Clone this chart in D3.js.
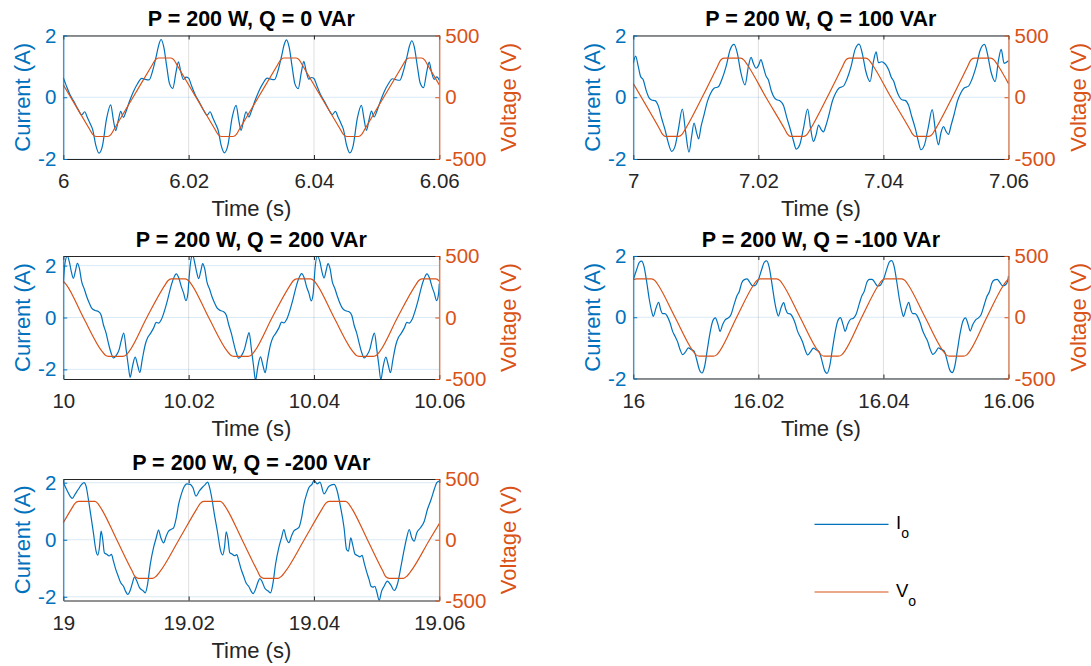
<!DOCTYPE html>
<html>
<head>
<meta charset="utf-8">
<script src="https://cdn.jsdelivr.net/npm/d3@7"></script>
<style>
  body { margin: 0; background: #fff; }
  svg { display: block; }
  text { font-family: "Liberation Sans", Arial, Helvetica, sans-serif; }
</style>
</head>
<body>
<svg id="chart" width="1091" height="666"></svg>
<script>
// ---------------------------------------------------------------
// Data: output current I_o (A) and output voltage V_o (V) over a
// 60 ms window for five operating points. Times are ms offsets
// from each window's start time (s).
// ---------------------------------------------------------------
const panelTitles = [
  "P = 200 W, Q = 0 VAr",
  "P = 200 W, Q = 100 VAr",
  "P = 200 W, Q = 200 VAr",
  "P = 200 W, Q = -100 VAr",
  "P = 200 W, Q = -200 VAr"
];
const startTimes = [6, 7, 10, 16, 19];
const timeTickLabels = [
  ["6", "6.02", "6.04", "6.06"],
  ["7", "7.02", "7.04", "7.06"],
  ["10", "10.02", "10.04", "10.06"],
  ["16", "16.02", "16.04", "16.06"],
  ["19", "19.02", "19.04", "19.06"]
];
const currentTicks = [-2, 0, 2];
const voltageTicks = [-500, 0, 500];
const currentLimits = [2, 2, 2.37, 2, 2.13];
const voltageLimit = 500;
const legendLabels = [["I", "o"], ["V", "o"]];

// Q = 0 VAr
const curMs1 = [0.00,0.43,1.07,1.70,2.40,2.93,3.41,3.83,4.37,4.69,5.17,5.70,6.23,6.92,7.56,7.99,8.36,8.79,9.16,9.59,10.01,10.55,11.18,11.82,12.52,13.05,13.69,14.22,14.81,15.23,15.61,16.03,16.51,16.94,17.47,18.00,18.37,18.75,19.17,19.60,
  20.00,20.45,21.10,21.72,22.40,22.95,23.42,23.85,24.38,24.70,25.18,25.72,26.25,26.94,27.57,28.00,28.37,28.80,29.17,29.60,30.02,30.56,31.19,31.84,32.53,33.06,33.70,34.23,34.82,35.24,35.62,36.04,36.52,36.95,37.48,38.01,38.38,38.76,39.18,39.61,
  40.00,40.44,41.08,41.71,42.41,42.94,43.42,43.84,44.38,44.70,45.18,45.71,46.24,46.93,47.57,48.00,48.37,48.80,49.17,49.60,50.02,50.56,51.19,51.83,52.53,53.06,53.70,54.23,54.82,55.24,55.62,56.04,56.52,56.95,57.48,58.01,58.38,58.76,59.18,59.61,60.00];
const cur1 = [0.63,0.40,0.08,-0.14,-0.41,-0.57,-0.47,-0.65,-0.89,-1.05,-1.54,-1.81,-1.59,-0.68,-0.25,-0.73,-1.08,-0.73,-0.46,-0.65,-0.46,-0.14,0.18,0.43,0.61,0.58,0.56,0.83,1.31,1.69,1.87,1.63,0.99,0.45,0.29,0.83,1.15,0.83,0.58,0.65,
  0.62,0.38,0.06,-0.16,-0.43,-0.58,-0.47,-0.66,-0.90,-1.06,-1.55,-1.80,-1.57,-0.66,-0.26,-0.74,-1.07,-0.72,-0.47,-0.64,-0.45,-0.13,0.19,0.44,0.62,0.59,0.57,0.84,1.32,1.70,1.86,1.62,0.98,0.44,0.28,0.84,1.16,0.84,0.59,0.64,
  0.61,0.39,0.07,-0.15,-0.42,-0.56,-0.46,-0.64,-0.88,-1.04,-1.53,-1.80,-1.58,-0.67,-0.26,-0.72,-1.07,-0.72,-0.45,-0.64,-0.46,-0.15,0.17,0.42,0.60,0.57,0.55,0.82,1.29,1.66,1.83,1.60,0.97,0.46,0.31,0.84,1.14,0.82,0.58,0.66,0.55];
const volMs1 = [0,1.17,4.15,4.69,5.22,7.08,7.62,8.15,11.13,14.11,14.65,15.18,17.15,17.68,18.21,21.17,24.15,24.69,25.22,27.08,27.62,28.15,31.13,34.11,34.65,35.18,37.15,37.68,38.21,41.17,44.15,44.69,45.22,47.08,47.62,48.15,51.13,54.11,54.65,55.18,57.15,57.68,58.21,60];
const vol1 = [100,0,-255,-301,-318,-318,-301,-255,0,255,301,318,318,301,255,0,-255,-301,-318,-318,-301,-255,0,255,301,318,318,301,255,0,-255,-301,-318,-318,-301,-255,0,255,301,318,318,301,255,100];

// Q = 100 VAr
const curMs2 = [0.00,0.37,0.80,1.17,1.60,2.03,2.56,2.93,3.47,4.00,4.53,5.07,5.60,6.13,6.67,7.20,7.84,8.32,8.91,9.33,9.71,10.13,10.45,10.83,11.31,11.84,12.37,12.91,13.60,14.13,14.83,15.47,16.11,16.64,17.17,17.87,18.40,18.83,19.20,19.63,
  20.05,20.40,20.80,21.20,21.62,22.05,22.58,22.95,23.48,24.02,24.55,25.08,25.60,26.05,26.60,27.20,27.88,28.35,28.80,29.25,29.62,30.05,30.40,30.83,31.31,31.84,32.37,32.91,33.60,34.13,34.83,35.47,36.11,36.64,37.17,37.87,38.40,38.83,39.20,39.73,
  40.05,40.40,40.85,41.25,41.65,42.05,42.58,42.95,43.48,44.02,44.55,45.08,45.55,46.00,46.55,47.15,47.80,48.30,48.80,49.20,49.60,50.05,50.40,50.83,51.31,51.84,52.37,52.91,53.60,54.13,54.83,55.47,56.16,56.64,57.17,57.87,58.40,58.83,59.30,60.00];
const cur2 = [1.10,1.33,0.99,0.67,0.56,0.24,-0.03,-0.09,-0.11,-0.28,-0.68,-1.05,-1.48,-1.75,-1.59,-1.05,-0.38,-1.05,-1.78,-1.27,-0.84,-1.16,-1.35,-0.95,-0.57,-0.14,0.13,0.29,0.34,0.56,0.99,1.53,1.71,1.42,0.83,0.40,0.99,1.29,1.10,0.94,
  1.04,1.22,0.98,0.70,0.55,0.22,-0.02,-0.08,-0.12,-0.27,-0.66,-1.02,-1.40,-1.68,-1.55,-1.02,-0.38,-1.00,-1.43,-1.20,-0.90,-1.05,-1.12,-0.90,-0.55,-0.12,0.14,0.30,0.36,0.57,1.00,1.55,1.72,1.40,0.85,0.51,1.15,1.47,1.12,1.15,
  1.12,1.05,0.88,0.65,0.52,0.25,0.00,-0.08,-0.10,-0.26,-0.64,-1.00,-1.40,-1.70,-1.55,-1.00,-0.40,-1.05,-1.54,-1.15,-0.95,-1.12,-1.20,-0.90,-0.55,-0.12,0.14,0.30,0.36,0.57,1.00,1.52,1.71,1.40,0.85,0.51,1.20,1.55,1.10,1.18];
const volMs2 = [0,4.27,4.69,5.12,7.25,7.79,8.32,11.01,13.44,13.97,14.51,17.17,17.71,18.24,21.21,24.27,24.69,25.12,27.25,27.79,28.32,31.01,33.44,33.97,34.51,37.17,37.71,38.24,41.21,44.27,44.69,45.12,47.25,47.79,48.32,51.01,53.44,53.97,54.51,57.17,57.71,58.24,60];
const vol2 = [110,-263,-301,-317,-317,-301,-258,0,247,301,317,317,301,263,0,-263,-301,-317,-317,-301,-258,0,247,301,317,317,301,263,0,-263,-301,-317,-317,-301,-258,0,247,301,317,317,301,263,110];

// Q = 200 VAr
const curMs3 = [0.00,0.27,0.64,0.96,1.28,1.60,1.97,2.24,2.56,2.93,3.36,3.73,4.16,4.53,5.07,5.60,6.03,6.40,6.83,7.20,7.63,8.00,8.43,8.91,9.28,9.65,10.03,10.35,10.67,11.04,11.47,11.84,12.21,12.59,13.07,13.49,13.87,14.40,14.83,15.20,15.63,16.11,16.64,17.17,17.60,18.03,18.45,18.83,19.20,19.57,19.89,
  20.00,20.27,20.64,20.96,21.28,21.60,21.97,22.24,22.56,22.93,23.36,23.73,24.16,24.53,25.07,25.60,26.03,26.40,26.83,27.20,27.63,28.00,28.43,28.91,29.28,29.65,30.03,30.35,30.67,31.04,31.47,31.84,32.21,32.59,33.07,33.49,33.87,34.40,34.83,35.20,35.63,36.11,36.64,37.17,37.60,38.03,38.45,38.83,39.20,39.57,39.89,
  40.00,40.16,40.53,40.96,41.28,41.60,41.97,42.24,42.56,42.93,43.36,43.73,44.16,44.53,45.07,45.60,46.03,46.40,46.83,47.20,47.63,48.00,48.43,48.91,49.28,49.65,50.03,50.35,50.67,51.04,51.47,51.84,52.21,52.59,53.07,53.49,53.87,54.40,54.83,55.20,55.63,56.11,56.64,57.17,57.60,58.03,58.45,58.83,59.20,59.57,59.89,60.00];
const cur3 = [1.32,2.09,2.37,2.15,1.77,1.51,1.83,2.09,1.90,1.38,1.09,0.81,0.55,0.36,0.27,0.23,0.10,-0.28,-0.60,-0.99,-1.37,-1.56,-1.47,-1.24,-0.86,-0.60,-1.24,-1.82,-2.31,-1.88,-1.53,-1.82,-2.12,-1.63,-1.05,-0.76,-0.63,-0.41,-0.19,-0.22,-0.09,0.23,0.68,1.19,1.51,1.68,1.51,1.19,0.94,0.65,0.94,
  1.30,2.05,2.40,2.12,1.75,1.50,1.82,2.08,1.88,1.36,1.08,0.80,0.55,0.37,0.27,0.22,0.08,-0.28,-0.62,-1.00,-1.38,-1.57,-1.47,-1.22,-0.86,-0.58,-1.25,-1.85,-2.42,-1.90,-1.52,-1.83,-2.13,-1.62,-1.04,-0.75,-0.62,-0.40,-0.18,-0.21,-0.08,0.24,0.69,1.20,1.52,1.69,1.52,1.18,0.93,0.64,0.95,
  1.30,1.85,2.36,2.14,1.76,1.52,1.84,2.08,1.89,1.37,1.10,0.82,0.54,0.36,0.26,0.22,0.09,-0.29,-0.61,-0.98,-1.36,-1.56,-1.46,-1.23,-0.85,-0.60,-1.24,-1.84,-2.40,-1.89,-1.53,-1.82,-2.13,-1.63,-1.05,-0.76,-0.63,-0.41,-0.19,-0.22,-0.09,0.23,0.68,1.19,1.51,1.68,1.51,1.19,0.94,0.65,0.94,1.30];
const volMs3 = [0,0.53,3.2,6.13,6.67,7.20,9.49,10.03,10.56,13.33,16.16,16.69,17.23,19.47,20.0,20.53,23.2,26.13,26.67,27.20,29.49,30.03,30.56,33.33,36.16,36.69,37.23,39.47,40.0,40.53,43.2,46.13,46.67,47.20,49.49,50.03,50.56,53.33,56.16,56.69,57.23,59.47,60];
const vol3 = [296,264,0,-272,-305,-316,-316,-305,-272,0,259,299,314,314,299,264,0,-272,-305,-316,-316,-305,-272,0,259,299,314,314,299,264,0,-272,-305,-316,-316,-305,-272,0,259,299,314,314,296];

// Q = -100 VAr
const curMs4 = [0.00,0.53,0.96,1.33,1.71,2.13,2.56,2.93,3.20,3.63,4.05,4.37,4.69,5.07,5.44,5.87,6.29,6.67,7.04,7.47,7.89,8.32,8.80,9.23,9.71,10.13,10.56,10.99,11.41,11.84,12.27,12.69,13.12,13.55,13.87,14.29,14.72,15.20,15.63,16.11,16.53,16.96,17.33,17.76,18.19,18.61,19.04,19.47,19.89,
  20.00,20.53,20.96,21.33,21.71,22.13,22.56,22.93,23.20,23.63,24.05,24.37,24.69,25.07,25.44,25.87,26.29,26.67,27.04,27.47,27.89,28.32,28.80,29.23,29.71,30.13,30.56,30.99,31.41,31.84,32.27,32.69,33.12,33.55,33.87,34.29,34.72,35.20,35.63,36.11,36.53,36.96,37.33,37.76,38.19,38.61,39.04,39.47,39.89,
  40.00,40.53,40.96,41.33,41.71,42.13,42.56,42.93,43.20,43.63,44.05,44.37,44.69,45.07,45.44,45.87,46.29,46.67,47.04,47.47,47.89,48.32,48.80,49.23,49.71,50.13,50.56,50.99,51.41,51.84,52.27,52.69,53.12,53.55,53.87,54.29,54.72,55.20,55.63,56.11,56.53,56.96,57.33,57.76,58.19,58.61,59.04,59.47,59.89,60.00];
const cur4 = [1.23,1.55,1.79,1.83,1.66,1.17,0.58,0.20,0.03,0.30,0.49,0.25,0.12,0.12,0.03,-0.18,-0.46,-0.62,-0.78,-1.05,-1.22,-1.14,-1.00,-1.05,-1.11,-1.38,-1.71,-1.82,-1.60,-1.05,-0.51,-0.13,-0.02,-0.24,-0.46,-0.24,-0.08,-0.02,0.09,0.41,0.68,0.85,1.12,1.23,1.25,1.15,1.03,1.03,1.17,
  1.22,1.56,1.80,1.84,1.65,1.15,0.57,0.19,0.04,0.31,0.48,0.26,0.13,0.11,0.02,-0.19,-0.47,-0.63,-0.79,-1.06,-1.23,-1.13,-1.01,-1.06,-1.12,-1.39,-1.72,-1.83,-1.59,-1.04,-0.50,-0.12,-0.01,-0.25,-0.46,-0.23,-0.07,-0.03,0.10,0.42,0.69,0.86,1.13,1.24,1.24,1.14,1.02,1.04,1.18,
  1.23,1.57,1.81,1.85,1.66,1.16,0.58,0.21,0.03,0.29,0.49,0.24,0.12,0.12,0.03,-0.18,-0.45,-0.62,-0.77,-1.04,-1.21,-1.14,-1.00,-1.05,-1.10,-1.37,-1.70,-1.81,-1.60,-1.06,-0.52,-0.14,-0.02,-0.24,-0.45,-0.24,-0.09,-0.02,0.09,0.40,0.67,0.84,1.11,1.22,1.24,1.14,1.03,1.05,1.20,1.35];
const volMs4 = [0,0.53,2.93,3.47,4.0,6.67,9.49,10.03,10.56,12.8,13.33,13.87,16.53,19.2,19.73,20.27,22.93,23.47,24.0,26.67,29.49,30.03,30.56,32.8,33.33,33.87,36.53,39.2,39.73,40.27,42.93,43.47,44.0,46.67,49.49,50.03,50.56,52.8,53.33,53.87,56.53,59.2,59.73,60];
const vol4 = [306,314,314,299,261,0,-272,-307,-318,-318,-307,-272,0,261,299,314,314,299,261,0,-272,-307,-318,-318,-307,-272,0,261,299,314,314,299,261,0,-272,-307,-318,-318,-307,-272,0,261,299,308];

// Q = -200 VAr
const curMs5 = [0.00,0.27,0.64,1.07,1.44,1.87,2.40,2.93,3.31,3.63,4.00,4.37,4.80,5.23,5.49,5.76,6.03,6.29,6.56,6.93,7.31,7.68,8.00,8.37,8.75,9.17,9.60,9.97,10.29,10.67,11.04,11.36,11.73,12.16,12.69,13.07,13.44,13.87,14.40,14.83,15.20,15.57,16.00,16.43,16.80,17.17,17.60,18.03,18.40,18.83,19.20,19.73,
  20.27,20.69,21.17,21.71,22.24,22.67,23.04,23.36,23.73,24.10,24.60,25.10,25.45,25.72,26.00,26.28,26.56,26.93,27.31,27.68,28.00,28.37,28.75,29.17,29.60,29.97,30.29,30.67,31.04,31.36,31.73,32.16,32.69,33.07,33.44,33.87,34.40,34.83,35.20,35.57,36.00,36.43,36.80,37.17,37.60,38.03,38.40,38.83,39.20,39.73,
  40.00,40.53,40.96,41.60,42.40,43.20,43.63,44.16,44.80,45.20,45.50,45.87,46.20,46.56,46.93,47.31,47.68,48.00,48.37,48.80,49.10,49.40,49.70,50.05,50.40,50.80,51.20,51.70,52.30,52.80,53.30,53.90,54.40,54.80,55.20,55.60,56.00,56.40,57.00,57.60,58.10,58.70,59.20,59.60,60.00];
const cur5 = [2.00,1.88,1.71,1.53,1.45,1.59,1.77,1.94,2.00,1.88,1.42,0.89,0.25,-0.40,-0.54,-0.28,0.30,0.01,-0.46,-0.51,-0.57,-0.51,-0.75,-1.04,-1.27,-1.51,-1.63,-1.82,-1.92,-1.78,-1.51,-1.31,-1.45,-1.68,-1.78,-1.86,-1.57,-0.87,-0.28,0.07,0.34,0.07,-0.11,0.13,0.30,0.36,0.42,0.77,1.24,1.59,1.82,1.96,
  1.94,1.82,1.53,1.71,1.85,1.94,2.02,1.82,1.42,0.90,0.28,-0.38,-0.53,-0.27,0.28,0.02,-0.45,-0.50,-0.56,-0.52,-0.74,-1.03,-1.26,-1.52,-1.64,-1.80,-1.89,-1.74,-1.50,-1.36,-1.47,-1.70,-1.80,-1.86,-1.55,-0.86,-0.27,0.08,0.36,0.06,-0.10,0.14,0.31,0.37,0.43,0.78,1.25,1.60,1.83,1.96,
  2.08,1.96,2.02,1.61,1.88,1.94,1.77,1.24,0.42,-0.34,-0.40,0.07,-0.20,-0.51,-0.55,-0.60,-0.55,-0.80,-1.10,-1.40,-1.63,-1.66,-1.63,-1.85,-2.13,-1.80,-1.63,-1.45,-1.60,-1.78,-1.57,-0.92,-0.34,0.07,0.36,0.07,-0.05,0.24,0.42,0.65,1.06,1.42,1.77,2.00,2.06];
const volMs5 = [0,1.33,1.87,2.4,5.07,5.6,6.13,8.53,10.99,11.47,12.0,14.29,14.83,15.36,18.45,21.33,21.87,22.4,25.07,25.6,26.13,28.53,30.99,31.47,32.0,34.29,34.83,35.36,38.45,41.33,41.87,42.4,45.07,45.6,46.13,48.53,50.99,51.47,52.0,54.29,54.83,55.36,58.45,60];
const vol5 = [140,256,300,316,316,292,250,0,-258,-305,-318,-318,-300,-267,0,256,300,316,316,292,250,0,-258,-305,-318,-318,-300,-267,0,256,300,316,316,292,250,0,-258,-305,-318,-318,-300,-267,0,133];

// ---------------------------------------------------------------
// Layout and styling
// ---------------------------------------------------------------
const BLUE = "#0072BD";
const ORANGE = "#D95319";
const INK = "#262626";
const TICK_FONT = 20.5;
const LABEL_FONT = 22;
const TITLE_FONT = 21.5;
const LEGEND_FONT = 18.5;

const boxes = [
  { x0: 63.3, x1: 439.3, y0: 35.5, y1: 159 },
  { x0: 633.3, x1: 1008.5, y0: 35.5, y1: 159 },
  { x0: 63.3, x1: 439.3, y0: 256, y1: 379 },
  { x0: 633.3, x1: 1008.5, y0: 256, y1: 378.5 },
  { x0: 63.3, x1: 439.3, y0: 479, y1: 600.5 }
];

const panels = [
  { curMs: curMs1, cur: cur1, volMs: volMs1, vol: vol1 },
  { curMs: curMs2, cur: cur2, volMs: volMs2, vol: vol2 },
  { curMs: curMs3, cur: cur3, volMs: volMs3, vol: vol3 },
  { curMs: curMs4, cur: cur4, volMs: volMs4, vol: vol4 },
  { curMs: curMs5, cur: cur5, volMs: volMs5, vol: vol5 }
].map((p, k) => ({
  ...p,
  title: panelTitles[k],
  start: startTimes[k],
  xLabels: timeTickLabels[k],
  iLim: currentLimits[k],
  box: boxes[k]
}));

const svg = d3.select("#chart");
const defs = svg.append("defs");

function styleAxis(sel, color) {
  sel.attr("font-family", null).attr("font-size", null);
  sel.select(".domain").attr("stroke", color).attr("stroke-width", 1);
  sel.selectAll(".tick line").attr("stroke", color).attr("stroke-width", 1);
  sel.selectAll(".tick text").attr("fill", color).style("font-size", TICK_FONT + "px");
}

panels.forEach((p, k) => {
  const b = p.box;
  const x = d3.scaleLinear().domain([p.start, p.start + 0.06]).range([b.x0, b.x1]);
  const yI = d3.scaleLinear().domain([-p.iLim, p.iLim]).range([b.y1, b.y0]);
  const yV = d3.scaleLinear().domain([-voltageLimit, voltageLimit]).range([b.y1, b.y0]);
  const xTicks = p.xLabels.map(s => +s);

  const g = svg.append("g").attr("class", "panel");

  defs.append("clipPath").attr("id", "plot-clip-" + k)
    .append("rect")
    .attr("x", b.x0).attr("y", b.y0)
    .attr("width", b.x1 - b.x0).attr("height", b.y1 - b.y0);

  // grid
  g.append("g").selectAll("line").data(xTicks).join("line")
    .attr("x1", d => x(d)).attr("x2", d => x(d))
    .attr("y1", b.y0).attr("y2", b.y1)
    .attr("stroke", INK).attr("stroke-opacity", 0.15).attr("stroke-width", 1);
  g.append("g").selectAll("line").data(currentTicks).join("line")
    .attr("x1", b.x0).attr("x2", b.x1)
    .attr("y1", d => yI(d)).attr("y2", d => yI(d))
    .attr("stroke", BLUE).attr("stroke-opacity", 0.15).attr("stroke-width", 1);

  // traces
  const curPts = p.curMs.map((t, i) => [p.start + t / 1000, p.cur[i]]);
  const volPts = p.volMs.map((t, i) => [p.start + t / 1000, p.vol[i]]);
  const traces = g.append("g").attr("clip-path", "url(#plot-clip-" + k + ")");
  traces.append("path")
    .attr("d", d3.line().x(d => x(d[0])).y(d => yI(d[1])).curve(d3.curveMonotoneX)(curPts))
    .attr("fill", "none").attr("stroke", BLUE).attr("stroke-width", 1.2)
    .attr("stroke-linejoin", "round");
  traces.append("path")
    .attr("d", d3.line().x(d => x(d[0])).y(d => yV(d[1])).curve(d3.curveMonotoneX)(volPts))
    .attr("fill", "none").attr("stroke", ORANGE).attr("stroke-width", 1.2)
    .attr("stroke-linejoin", "round");

  // axes (ticks point inward)
  const bottom = g.append("g").attr("transform", `translate(0,${b.y1})`)
    .call(d3.axisBottom(x).tickValues(xTicks).tickFormat((d, i) => p.xLabels[i])
      .tickSize(-4).tickSizeOuter(0).tickPadding(14.5));
  styleAxis(bottom, INK);
  const top = g.append("g").attr("transform", `translate(0,${b.y0})`)
    .call(d3.axisTop(x).tickValues(xTicks).tickFormat("")
      .tickSize(-4).tickSizeOuter(0));
  styleAxis(top, INK);
  const left = g.append("g").attr("transform", `translate(${b.x0},0)`)
    .call(d3.axisLeft(yI).tickValues(currentTicks).tickFormat(d => String(d))
      .tickSize(-4).tickSizeOuter(0).tickPadding(7));
  styleAxis(left, BLUE);
  const right = g.append("g").attr("transform", `translate(${b.x1},0)`)
    .call(d3.axisRight(yV).tickValues(voltageTicks).tickFormat(d => String(d))
      .tickSize(-4).tickSizeOuter(0).tickPadding(6));
  styleAxis(right, ORANGE);

  // labels
  const midY = (b.y0 + b.y1) / 2;
  const midX = (b.x0 + b.x1) / 2;
  g.append("text")
    .attr("transform", `translate(${b.x0 - 33},${midY}) rotate(-90)`)
    .attr("text-anchor", "middle")
    .attr("fill", BLUE).style("font-size", LABEL_FONT + "px")
    .text("Current (A)");
  g.append("text")
    .attr("transform", `translate(${b.x1 + 77},${midY}) rotate(-90)`)
    .attr("text-anchor", "middle")
    .attr("fill", ORANGE).style("font-size", LABEL_FONT + "px")
    .text("Voltage (V)");
  g.append("text")
    .attr("x", midX).attr("y", b.y1 + 57)
    .attr("text-anchor", "middle")
    .attr("fill", INK).style("font-size", LABEL_FONT + "px")
    .text("Time (s)");
  g.append("text")
    .attr("x", midX).attr("y", b.y0 - 9.5)
    .attr("text-anchor", "middle")
    .attr("fill", "#000").style("font-size", TITLE_FONT + "px").style("font-weight", "bold")
    .text(p.title);
});

// legend
const legend = svg.append("g");
const legendColors = [BLUE, ORANGE];
const legendRows = [524.3, 592];
legendLabels.forEach((lab, i) => {
  const y = legendRows[i];
  legend.append("line")
    .attr("x1", 814.5).attr("x2", 888.5).attr("y1", y).attr("y2", y)
    .attr("stroke", legendColors[i]).attr("stroke-width", 1.2);
  const t = legend.append("text")
    .attr("x", 896).attr("y", y + 5)
    .attr("fill", "#000").style("font-size", LEGEND_FONT + "px");
  t.append("tspan").text(lab[0]);
  t.append("tspan").attr("dy", 8.5).style("font-size", "14px").text(lab[1]);
});
</script>
</body>
</html>
